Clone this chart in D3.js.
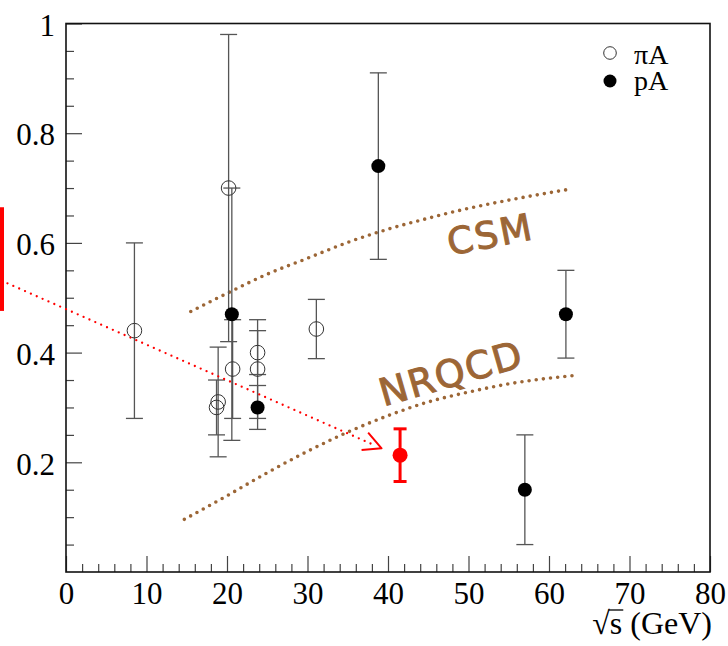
<!DOCTYPE html>
<html>
<head>
<meta charset="utf-8">
<script src="https://cdn.jsdelivr.net/npm/d3@7"></script>
<style>
  body { margin: 0; background: #fff; }
  svg { display: block; }
</style>
</head>
<body>
<div id="chart"></div>
<script>
const W = 728, H = 646;

// pi-A points: sqrt(s), ratio, error
const piX   = [8.5, 18.9, 18.7, 20.2, 20.7, 23.8, 23.8, 31.1];
const piY   = [0.44, 0.31, 0.30, 0.70, 0.37, 0.40, 0.37, 0.443];
const piErr = [0.16, 0.10, 0.05, 0.28, 0.09, 0.04, 0.09, 0.054];

// p-A points
const pX   = [20.6, 23.8, 38.8, 57.0, 62.1];
const pY   = [0.47, 0.30, 0.74, 0.15, 0.47];
const pErr = [0.23, 0.04, 0.17, 0.10, 0.08];

// highlighted (red) point
const redX = [41.5], redY = [0.213], redErr = [0.048];

// model curves
const csmX = [15.5, 20, 25, 30, 35, 40, 45, 50, 55, 62.6];
const csmY = [0.475, 0.508, 0.543, 0.572, 0.601, 0.625, 0.645, 0.663, 0.678, 0.698];
const nrX = [14.7, 20, 25, 30, 35, 40, 45, 50, 55, 62.9];
const nrY = [0.096, 0.139, 0.181, 0.22, 0.255, 0.285, 0.31, 0.328, 0.343, 0.358];

// red band on the left and arrow
const bandLo = 0.476, bandHi = 0.665;
const arrowX = [-8.0, 39.2], arrowY = [0.531, 0.2255];

const xMajor = [0, 10, 20, 30, 40, 50, 60, 70, 80];
const yMajor = [0.2, 0.4, 0.6, 0.8, 1];

const x = d3.scaleLinear().domain([0, 80]).range([66, 710]);
const y = d3.scaleLinear().domain([0, 1]).range([572, 23.5]);

const svg = d3.select("#chart").append("svg")
  .attr("width", W).attr("height", H);

const serif = "'Liberation Serif', 'Times New Roman', serif";
const brown = "#9c6636";

// axes ticks
const gx = svg.append("g").attr("transform", "translate(0,572)")
  .call(d3.axisBottom(x).tickValues(xMajor).tickSize(-16).tickSizeOuter(0).tickFormat(d3.format("d")));
gx.select(".domain").remove();
gx.selectAll("line").attr("stroke", "#444").attr("stroke-width", 1.2);
gx.selectAll("text").attr("y", 32).attr("dy", null)
  .attr("fill", "#000").style("font-family", serif).style("font-size", "31px");

const gxm = svg.append("g").attr("transform", "translate(0,572)")
  .call(d3.axisBottom(x).tickValues(d3.range(0, 81, 2).filter(v => v % 10 !== 0))
    .tickSize(-8).tickSizeOuter(0).tickFormat(""));
gxm.select(".domain").remove();
gxm.selectAll("line").attr("stroke", "#444").attr("stroke-width", 1.2);

const gy = svg.append("g").attr("transform", "translate(66,0)")
  .call(d3.axisLeft(y).tickValues(yMajor).tickSize(-16).tickSizeOuter(0).tickPadding(11)
    .tickFormat(d => d === 1 ? "1" : d3.format(".1f")(d)));
gy.select(".domain").remove();
gy.selectAll("line").attr("stroke", "#444").attr("stroke-width", 1.2);
gy.selectAll("text").attr("dy", "0.38em")
  .attr("fill", "#000").style("font-family", serif).style("font-size", "31px");

const yMinor = d3.range(1, 20).map(i => i * 0.05).filter(v => Math.abs(v * 5 - Math.round(v * 5)) > 1e-6);
const gym = svg.append("g").attr("transform", "translate(66,0)")
  .call(d3.axisLeft(y).tickValues(yMinor).tickSize(-8).tickSizeOuter(0).tickFormat(""));
gym.select(".domain").remove();
gym.selectAll("line").attr("stroke", "#444").attr("stroke-width", 1.2);

// frame
svg.append("rect")
  .attr("x", x(0)).attr("y", y(1))
  .attr("width", x(80) - x(0)).attr("height", y(0) - y(1))
  .attr("fill", "none").attr("stroke", "#111").attr("stroke-width", 1.6);

// model curves
const line = d3.line().x(d => x(d[0])).y(d => y(d[1])).curve(d3.curveMonotoneX);
[[csmX, csmY], [nrX, nrY]].forEach(([xs, ys]) => {
  svg.append("path")
    .attr("d", line(d3.zip(xs, ys)))
    .attr("fill", "none")
    .attr("stroke", brown)
    .attr("stroke-width", 3.6)
    .attr("stroke-linecap", "round")
    .attr("stroke-dasharray", "0 7.2");
});

// labels on the curves
const hand = "'Comic Sans MS', 'DejaVu Sans', sans-serif";
svg.append("text")
  .attr("transform", `translate(${x(52.7)},${y(0.616)}) rotate(-11)`)
  .attr("text-anchor", "middle").attr("dy", "0.36em")
  .attr("fill", brown).attr("stroke", brown).attr("stroke-width", 1)
  .style("font-family", hand).style("font-size", "37px").style("letter-spacing", "2px")
  .text("CSM");
svg.append("text")
  .attr("transform", `translate(${x(47.8)},${y(0.363)}) rotate(-16)`)
  .attr("text-anchor", "middle").attr("dy", "0.36em")
  .attr("fill", brown).attr("stroke", brown).attr("stroke-width", 1)
  .style("font-family", hand).style("font-size", "38px").style("letter-spacing", "1.5px")
  .text("NRQCD");

// error bars
function errorBars(xs, ys, es, color, width, cap) {
  const data = d3.zip(xs, ys, es);
  const g = svg.append("g").attr("stroke", color).attr("stroke-width", width);
  g.selectAll(".v").data(data).join("line")
    .attr("x1", d => x(d[0])).attr("x2", d => x(d[0]))
    .attr("y1", d => y(d[1] + d[2])).attr("y2", d => y(d[1] - d[2]));
  g.selectAll(".t").data(data).join("line")
    .attr("x1", d => x(d[0]) - cap).attr("x2", d => x(d[0]) + cap)
    .attr("y1", d => y(d[1] + d[2])).attr("y2", d => y(d[1] + d[2]));
  g.selectAll(".b").data(data).join("line")
    .attr("x1", d => x(d[0]) - cap).attr("x2", d => x(d[0]) + cap)
    .attr("y1", d => y(d[1] - d[2])).attr("y2", d => y(d[1] - d[2]));
}
errorBars(piX, piY, piErr, "#555", 1.3, 8.5);
errorBars(pX, pY, pErr, "#555", 1.3, 8.5);

// points
svg.append("g").selectAll("circle").data(d3.zip(piX, piY)).join("circle")
  .attr("cx", d => x(d[0])).attr("cy", d => y(d[1])).attr("r", 7.3)
  .attr("fill", "none").attr("stroke", "#333").attr("stroke-width", 1);
svg.append("g").selectAll("circle").data(d3.zip(pX, pY)).join("circle")
  .attr("cx", d => x(d[0])).attr("cy", d => y(d[1])).attr("r", 7)
  .attr("fill", "#000");

// red band, arrow and point
svg.append("rect")
  .attr("x", 0).attr("y", y(bandHi))
  .attr("width", 4).attr("height", y(bandLo) - y(bandHi))
  .attr("fill", "#ff0000");

svg.append("line")
  .attr("x1", x(arrowX[0])).attr("y1", y(arrowY[0]))
  .attr("x2", x(arrowX[1]) - 6).attr("y2", y(arrowY[1]) - 2.6)
  .attr("stroke", "#ff0000").attr("stroke-width", 2.3)
  .attr("stroke-linecap", "round").attr("stroke-dasharray", "0 6.4");
const tx = x(arrowX[1]), ty = y(arrowY[1]);
svg.append("path")
  .attr("d", `M${tx - 13.4},${ty - 15.6}L${tx},${ty}L${tx - 20},${ty + 1.7}`)
  .attr("fill", "none").attr("stroke", "#ff0000").attr("stroke-width", 2)
  .attr("stroke-linejoin", "round");

errorBars(redX, redY, redErr, "#ff0000", 3, 6.5);
svg.append("g").selectAll("circle").data(d3.zip(redX, redY)).join("circle")
  .attr("cx", d => x(d[0])).attr("cy", d => y(d[1])).attr("r", 7.5)
  .attr("fill", "#ff0000");

// legend
const lg = svg.append("g").style("font-family", serif).style("font-size", "28px");
lg.append("circle").attr("cx", 610).attr("cy", 53).attr("r", 6.3)
  .attr("fill", "none").attr("stroke", "#333").attr("stroke-width", 1);
lg.append("circle").attr("cx", 610).attr("cy", 81).attr("r", 6.5).attr("fill", "#000");
lg.append("text").attr("x", 634).attr("y", 64).text("\u03c0A");
lg.append("text").attr("x", 634).attr("y", 90).text("pA");

// x title
const xt = svg.append("text")
  .attr("x", 712).attr("y", 634).attr("text-anchor", "end")
  .style("font-family", serif).style("font-size", "32px");
xt.append("tspan").text("\u221a");
xt.append("tspan").text("s");
xt.append("tspan").text(" (GeV)");
const ext = xt.node().getExtentOfChar(1);
const rootExt = xt.node().getExtentOfChar(0);
svg.append("line")
  .attr("x1", rootExt.x + rootExt.width - 1).attr("x2", ext.x + ext.width + 1)
  .attr("y1", rootExt.y + 5).attr("y2", rootExt.y + 5)
  .attr("stroke", "#000").attr("stroke-width", 1.3);
</script>
</body>
</html>
